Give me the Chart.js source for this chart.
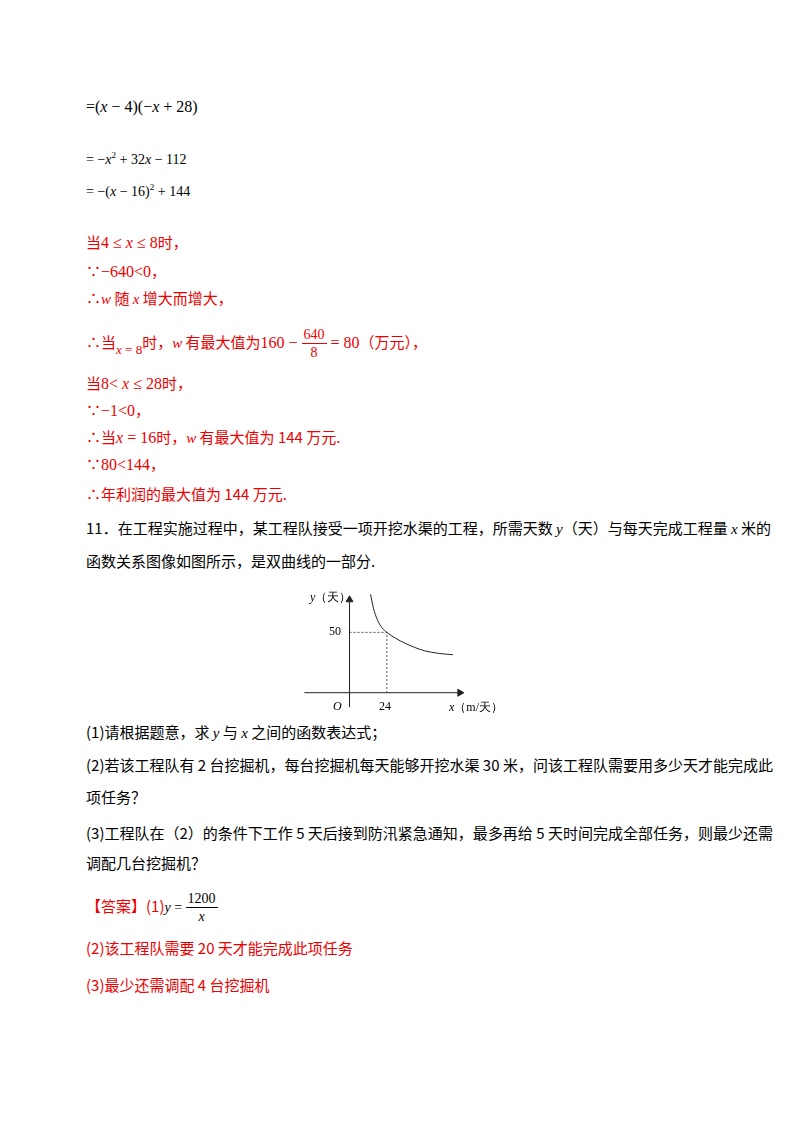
<!DOCTYPE html>
<html><head><meta charset="utf-8">
<script src="https://cdn.jsdelivr.net/npm/chart.js@4"></script>
<style>
body{margin:0;width:800px;height:1132px;background:#fff;position:relative;font-family:"Noto Sans CJK SC","Liberation Serif",serif;font-size:15px;color:#000}
.l{position:absolute;left:86px;white-space:nowrap}
.r{color:#e00}
.m{font-family:"Liberation Serif",serif;font-size:16px}
i{font-family:"Liberation Serif",serif}
.fr{display:inline-block;vertical-align:middle;text-align:center;font-family:"Liberation Serif",serif;font-size:14px;line-height:17px}
.fr span{display:block;padding:0 2px}
.fr span:first-child{border-bottom:1px solid currentColor}
.t{position:absolute;font-family:"Liberation Serif",serif;font-size:12px;white-space:nowrap}
#c{position:absolute;left:290px;top:580px}
</style></head><body>
<div class="l m" style="top:98px">=(<i>x</i> − 4)(−<i>x</i> + 28)</div>
<div class="l m" style="top:150px;font-size:14px">= −<i>x</i><sup style="font-size:9px">2</sup> + 32<i>x</i> − 112</div>
<div class="l m" style="top:182px;font-size:14px">= −(<i>x</i> − 16)<sup style="font-size:9px">2</sup> + 144</div>
<div class="l r" style="top:231px">当<span class="m">4 ≤ <i>x</i> ≤ 8</span>时，</div>
<div class="l r" style="top:260px">∵<span class="m">−640&lt;0</span>，</div>
<div class="l r" style="top:287px">∴<i>w</i> 随 <i>x</i> 增大而增大，</div>
<div class="l r" style="top:326px">∴当<span class="m" style="position:relative;top:6px;font-size:13px"><i>x</i> = 8</span>时，<i>w</i> 有最大值为<span class="m">160 − </span><span class="fr"><span>640</span><span>8</span></span><span class="m"> = 80</span>（万元），</div>
<div class="l r" style="top:372px">当<span class="m">8&lt; <i>x</i> ≤ 28</span>时，</div>
<div class="l r" style="top:399px">∵<span class="m">−1&lt;0</span>，</div>
<div class="l r" style="top:426px">∴当<span class="m"><i>x</i> = 16</span>时，<i>w</i> 有最大值为 144 万元.</div>
<div class="l r" style="top:453px">∵<span class="m">80&lt;144</span>，</div>
<div class="l r" style="top:483px">∴年利润的最大值为 144 万元.</div>
<div class="l" style="top:517px">11．在工程实施过程中，某工程队接受一项开挖水渠的工程，所需天数 <i>y</i>（天）与每天完成工程量 <i>x</i> 米的</div>
<div class="l" style="top:550px">函数关系图像如图所示，是双曲线的一部分.</div>
<canvas id="c" width="230" height="140" style="width:230px;height:140px"></canvas>
<div class="t" style="left:310px;top:589px"><i>y</i>（天）</div>
<div class="t" style="left:329px;top:624px">50</div>
<div class="t" style="left:333px;top:699px"><i>O</i></div>
<div class="t" style="left:379px;top:699px">24</div>
<div class="t" style="left:449px;top:699px"><i>x</i>（m/天）</div>
<div class="l" style="top:721px">(1)请根据题意，求 <i>y</i> 与 <i>x</i> 之间的函数表达式；</div>
<div class="l" style="top:754px">(2)若该工程队有 2 台挖掘机，每台挖掘机每天能够开挖水渠 30 米，问该工程队需要用多少天才能完成此</div>
<div class="l" style="top:786px">项任务？</div>
<div class="l" style="top:822px">(3)工程队在（2）的条件下工作 5 天后接到防汛紧急通知，最多再给 5 天时间完成全部任务，则最少还需</div>
<div class="l" style="top:852px">调配几台挖掘机？</div>
<div class="l r" style="top:890px">【答案】(1)<span class="m" style="color:#000;font-size:14px"><i>y</i> = </span><span class="fr" style="color:#000"><span>1200</span><span><i>x</i></span></span></div>
<div class="l r" style="top:937px">(2)该工程队需要 20 天才能完成此项任务</div>
<div class="l r" style="top:974px">(3)最少还需调配 4 台挖掘机</div>
<script>
// points
var curveX = [13.5, 15.4, 17.8, 20.9, 24, 29.5, 35.7, 41.8, 48, 57.2, 66.5];
var curveY = [81.5, 70, 60.8, 53.8, 50, 45.2, 41, 37.6, 34.8, 32.6, 31.5];
var xAxisRange = [-29, 71];
var yAxisRange = [-12, 77];
var markX = 24, markY = 50;

var pts = curveX.map(function (v, i) { return {x: v, y: curveY[i]}; });
var black = '#222';

var ctx = document.getElementById('c').getContext('2d');
var chart = new Chart(ctx, {
    type: 'scatter',
    data: {
        datasets: [{
            data: pts, showLine: true, borderColor: black, borderWidth: 1, pointRadius: 0,
            cubicInterpolationMode: 'monotone'
        }, {
            data: [{x: xAxisRange[0], y: 0}, {x: xAxisRange[1], y: 0}], showLine: true,
            borderColor: black, borderWidth: 1, backgroundColor: black,
            pointRadius: [0, 4], pointStyle: 'triangle', rotation: 90
        }, {
            data: [{x: 0, y: yAxisRange[0]}, {x: 0, y: yAxisRange[1]}], showLine: true,
            borderColor: black, borderWidth: 1, backgroundColor: black,
            pointRadius: [0, 4], pointStyle: 'triangle', rotation: 0
        }, {
            data: [{x: 0, y: markY}, {x: markX, y: markY}, {x: markX, y: 0}], showLine: true,
            borderColor: black, borderWidth: 0.8, borderDash: [2, 2], pointRadius: 0
        }]
    },
    options: {
        animation: false, responsive: false,
        layout: {padding: 0},
        plugins: {legend: {display: false}, tooltip: {enabled: false}},
        scales: {
            x: {type: 'linear', display: false, min: -35.08, max: 106.46},
            y: {type: 'linear', display: false, min: -18.46, max: 89.23}
        }
    }
});
</script>
</body></html>
